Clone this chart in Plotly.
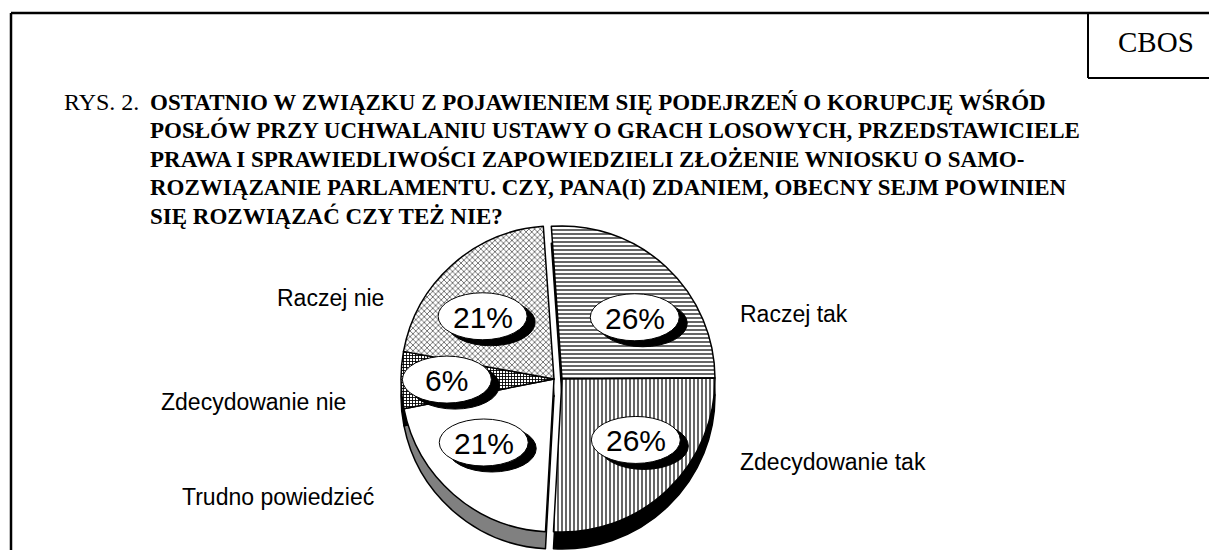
import math
import plotly.graph_objects as go

# ---- data ----
categories = ["Raczej tak", "Zdecydowanie tak", "Trudno powiedzieć", "Zdecydowanie nie", "Raczej nie"]
values = [26, 26, 21, 6, 21]
title_lead = "RYS. 2."
title_lines = [
    "OSTATNIO W ZWIĄZKU Z POJAWIENIEM SIĘ PODEJRZEŃ O KORUPCJĘ WŚRÓD",
    "POSŁÓW PRZY UCHWALANIU USTAWY O GRACH LOSOWYCH, PRZEDSTAWICIELE",
    "PRAWA I SPRAWIEDLIWOŚCI ZAPOWIEDZIELI ZŁOŻENIE WNIOSKU O SAMO-",
    "ROZWIĄZANIE PARLAMENTU. CZY, PANA(I) ZDANIEM, OBECNY SEJM POWINIEN",
    "SIĘ ROZWIĄZAĆ CZY TEŻ NIE?",
]
source_label = "CBOS"

# ---- layout constants (pixels) ----
W, H = 1209, 550
def X(x): return x / W
def Y(y): return min(1.0, max(0.0, 1 - y / H))

CX, CY, R = 554, 379, 153     # pie centre / radius
DEPTH = 17
SHIFT = 8                      # right half (tak) moved out as one piece
rotation = -4
right_half = [True, True, False, False, False]

patterns = ["-", "|", "", "+", "x"]
psizes = [4, 4, 8, 3, 4]
psolid = [0.3, 0.3, 0.3, 0.5, 0.25]
side_colors = ["black", "black", "#808080", "black", "#9a9a9a"]
CLEAR = "rgba(0,0,0,0)"

fig = go.Figure()


def pie_part(is_right, top):
    dx = SHIFT if is_right else 0
    dy = 0 if top else DEPTH
    keep = [rh == is_right for rh in right_half]
    if top:
        colors = ["white" if k else CLEAR for k in keep]
        pat = dict(shape=[s if k else "" for s, k in zip(patterns, keep)],
                   size=psizes, solidity=psolid, fgcolor="black", bgcolor="white")
    else:
        colors = [c if k else CLEAR for c, k in zip(side_colors, keep)]
        pat = None
    marker = dict(colors=colors,
                  line=dict(color=["black" if k else CLEAR for k in keep],
                            width=[1.5 if k else 0 for k in keep]))
    if pat:
        marker["pattern"] = pat
    return go.Pie(
        labels=categories, values=values, sort=False, direction="clockwise",
        rotation=rotation, textinfo="none", hoverinfo="skip" if not top else "label+percent",
        showlegend=False, marker=marker,
        domain=dict(x=[X(CX + dx - R), X(CX + dx + R)],
                    y=[Y(CY + dy + R), Y(CY + dy - R)]),
    )


fig.add_trace(pie_part(False, False))
fig.add_trace(pie_part(True, False))
fig.add_trace(pie_part(False, True))
fig.add_trace(pie_part(True, True))

shapes = []
annotations = []

# frame and CBOS box
shapes.append(dict(type="line", xref="paper", yref="paper", x0=X(11), x1=1.01, y0=Y(13), y1=Y(13),
                   line=dict(color="black", width=2.5)))
shapes.append(dict(type="line", xref="paper", yref="paper", x0=X(11), x1=X(11), y0=Y(13), y1=-0.02,
                   line=dict(color="black", width=2.5)))
shapes.append(dict(type="line", xref="paper", yref="paper", x0=X(1088), x1=X(1088), y0=Y(13), y1=Y(78),
                   line=dict(color="black", width=2)))
shapes.append(dict(type="line", xref="paper", yref="paper", x0=X(1088), x1=1.01, y0=Y(78), y1=Y(78),
                   line=dict(color="black", width=2)))
annotations.append(dict(text=source_label, x=X(1156), y=Y(42), xref="paper", yref="paper",
                        xanchor="center", yanchor="middle", showarrow=False,
                        font=dict(family="Liberation Serif", size=29, color="black")))

# title
ys = [102, 130, 158.5, 187, 215.5]
annotations.append(dict(text=title_lead, x=X(62), y=Y(ys[0]), xref="paper", yref="paper",
                        xanchor="left", yanchor="middle", showarrow=False,
                        font=dict(family="Liberation Serif", size=24, color="black")))
for line, yy in zip(title_lines, ys):
    annotations.append(dict(text="<b>" + line + "</b>", x=X(148), y=Y(yy), xref="paper", yref="paper",
                            xanchor="left", yanchor="middle", showarrow=False,
                            font=dict(family="Liberation Serif", size=23, color="black")))

# percentage bubbles, placed at each slice's mid angle
total = sum(values)
cum = 0
EW, EH = 89, 47
KX, KY = 0.7, 0.55
for v, rh in zip(values, right_half):
    mid = rotation + (cum + v / 2) / total * 360
    cum += v
    a = math.radians(mid)
    ex = CX + (SHIFT if rh else 0) + KX * R * math.sin(a)
    ey = CY - KY * R * math.cos(a)
    shapes.append(dict(type="circle", xref="paper", yref="paper", layer="above",
                       x0=X(ex - EW / 2 + 8), x1=X(ex + EW / 2 + 8),
                       y0=Y(ey - EH / 2 + 6), y1=Y(ey + EH / 2 + 6),
                       fillcolor="black", line=dict(color="black", width=1)))
    shapes.append(dict(type="circle", xref="paper", yref="paper", layer="above",
                       x0=X(ex - EW / 2), x1=X(ex + EW / 2),
                       y0=Y(ey - EH / 2), y1=Y(ey + EH / 2),
                       fillcolor="white", line=dict(color="black", width=1)))
    annotations.append(dict(text=f"{v}%", x=X(ex), y=Y(ey + 1), xref="paper", yref="paper",
                            xanchor="center", yanchor="middle", showarrow=False,
                            font=dict(family="Liberation Sans", size=30, color="black")))

# category labels
label_pos = {
    "Raczej tak": (738, 314),
    "Zdecydowanie tak": (738, 462),
    "Trudno powiedzieć": (180, 497),
    "Zdecydowanie nie": (159, 402),
    "Raczej nie": (275, 298),
}
for c in categories:
    lx, ly = label_pos[c]
    annotations.append(dict(text=c, x=X(lx), y=Y(ly), xref="paper", yref="paper",
                            xanchor="left", yanchor="middle", showarrow=False,
                            font=dict(family="Liberation Sans", size=23, color="black")))

fig.update_layout(
    width=W, height=H, margin=dict(l=0, r=0, t=0, b=0),
    paper_bgcolor="white", plot_bgcolor="white",
    shapes=shapes, annotations=annotations, showlegend=False,
)

fig.write_html("out.html")
